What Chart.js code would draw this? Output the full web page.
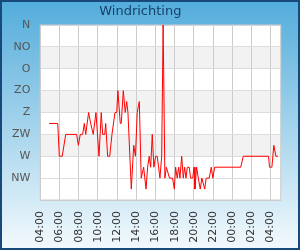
<!DOCTYPE html>
<html>
<head>
<meta charset="utf-8">
<script src="https://cdn.jsdelivr.net/npm/chart.js@4/dist/chart.umd.min.js"></script>
<style>
  body { margin: 0; }
  #wrap { width: 300px; height: 250px; }
</style>
</head>
<body>
<div id="wrap"><canvas id="windChart" width="300" height="250"></canvas></div>
<script>
// measurement times (HH:MM), runs past midnight into the next day
const times = [
  '04:55', '05:49', '05:59', '06:17', '06:39', '07:47', '07:58', '08:10', '08:25', '08:35',
  '08:44', '09:02', '09:15', '09:31', '09:48', '10:07', '10:21', '10:30', '10:43', '10:49',
  '11:01', '11:14', '11:28', '11:47', '11:58', '12:05', '12:20', '12:26', '12:39', '12:51',
  '13:00', '13:08', '13:29', '13:44', '13:55', '14:06', '14:19', '14:31', '14:46', '15:01',
  '15:11', '15:21', '15:30', '15:40', '15:50', '16:01', '16:11', '16:28', '16:39', '16:48',
  '16:59', '17:08', '17:28', '17:47', '17:58', '18:06', '18:16', '18:25', '18:33', '18:44',
  '18:54', '19:02', '19:11', '19:19', '19:31', '19:40', '19:53', '20:01', '20:07', '20:17',
  '20:28', '20:40', '20:50', '21:08', '21:17', '21:36', '21:49', '21:59', '22:10', '00:53',
  '01:09', '03:47', '03:53', '04:08', '04:20', '04:33', '04:46'
];
// wind direction, 1 = NW ... 8 = N (halves = in between)
const directions = [
  3.5, 3.5, 2, 2, 3, 3, 2.5, 3, 3, 3.5,
  3, 4, 3.5, 3, 4, 2, 4, 3, 3, 3.5,
  2, 2, 3, 4, 4, 5, 3.5, 3.5, 5, 4,
  4.5, 4, 0.5, 2.5, 2, 4, 4.5, 1, 1.5, 0.5,
  1.5, 2, 1.5, 3, 1.5, 2, 2, 1, 2, 8,
  1, 1.5, 1, 1, 0.5, 1.5, 1, 1.5, 1, 2,
  1, 1.5, 1, 1.5, 1.5, 1, 1, 1.5, 0.5, 1.5,
  1, 0.5, 1, 0.5, 1, 1, 1.5, 1, 1.5, 1.5,
  2, 2, 1.5, 1.5, 2.5, 2, 2
];
const directionLabels = ['', 'NW', 'W', 'ZW', 'Z', 'ZO', 'O', 'NO', 'N'];

// turn HH:MM into running hours (add a day after midnight)
let prev = 0, dayOffset = 0;
const hours = times.map(t => {
  const [h, m] = t.split(':').map(Number);
  let v = h + m / 60;
  if (v + dayOffset < prev) dayOffset += 24;
  v += dayOffset;
  prev = v;
  return v;
});
const points = hours.map((h, i) => ({ x: h, y: directions[i] }));

const pad2 = n => (n < 10 ? '0' : '') + n;

const frame = {
  id: 'frame',
  beforeDraw(chart) {
    const { ctx, width, height, chartArea: a } = chart;
    const y = chart.scales.y;
    ctx.save();
    const g = ctx.createLinearGradient(0, 0, 0, height);
    g.addColorStop(0, '#52acdb');
    g.addColorStop(1, '#f4fafd');
    ctx.fillStyle = g;
    ctx.fillRect(0, 0, width, height);
    ctx.strokeStyle = '#18497b';
    ctx.lineWidth = 2;
    ctx.strokeRect(1, 1, width - 2, height - 2);
    ctx.fillStyle = '#ffffff';
    ctx.fillRect(a.left, a.top, a.right - a.left, a.bottom - a.top);
    // alternating bands
    ctx.fillStyle = '#f2f2f2';
    for (let v = 2; v < 8; v += 2) {
      const top = y.getPixelForValue(v + 1), bot = y.getPixelForValue(v);
      ctx.fillRect(a.left, top, a.right - a.left, bot - top);
    }
    ctx.restore();
  },
  beforeDatasetsDraw(chart) {
    const { ctx, chartArea: a } = chart;
    ctx.save();
    ctx.strokeStyle = '#cccccc';
    ctx.lineWidth = 1;
    ctx.strokeRect(a.left, a.top, a.right - a.left, a.bottom - a.top);
    ctx.restore();
  }
};

const ctx = document.getElementById('windChart').getContext('2d');
new Chart(ctx, {
  type: 'line',
  data: {
    datasets: [{
      data: points,
      borderColor: '#ff0000',
      borderWidth: 1,
      pointRadius: 0,
      tension: 0,
      fill: false
    }]
  },
  options: {
    responsive: false,
    animation: false,
    devicePixelRatio: 1,
    layout: { padding: { left: 0, right: 19.3, top: 0, bottom: 0 } },
    plugins: {
      legend: { display: false },
      tooltip: { enabled: false },
      title: {
        display: true,
        text: 'Windrichting',
        color: '#17406a',
        font: { family: 'DejaVu Sans', size: 13, weight: 'normal', lineHeight: 1.2 },
        padding: { top: 4, bottom: 5.4 }
      }
    },
    scales: {
      x: {
        type: 'linear',
        min: 4,
        max: 29.05,
        ticks: {
          stepSize: 2,
          includeBounds: false,
          autoSkip: false,
          maxRotation: 90,
          minRotation: 90,
          padding: 11,
          color: '#333333',
          font: { family: 'DejaVu Sans', size: 11 },
          callback: v => pad2(v % 24) + ':00'
        },
        grid: { color: '#cccccc', drawTicks: false },
        border: { color: '#cccccc' },
        afterFit(scale) { scale.height = 50; }
      },
      y: {
        min: 0,
        max: 8,
        ticks: {
          stepSize: 1,
          padding: 10,
          color: '#555555',
          font: { family: 'DejaVu Sans', size: 11 },
          callback: v => directionLabels[v]
        },
        grid: { color: '#dddddd', drawTicks: false },
        border: { color: '#cccccc' },
        afterFit(scale) { scale.width = 40.3; }
      }
    }
  },
  plugins: [frame]
});
</script>
</body>
</html>
